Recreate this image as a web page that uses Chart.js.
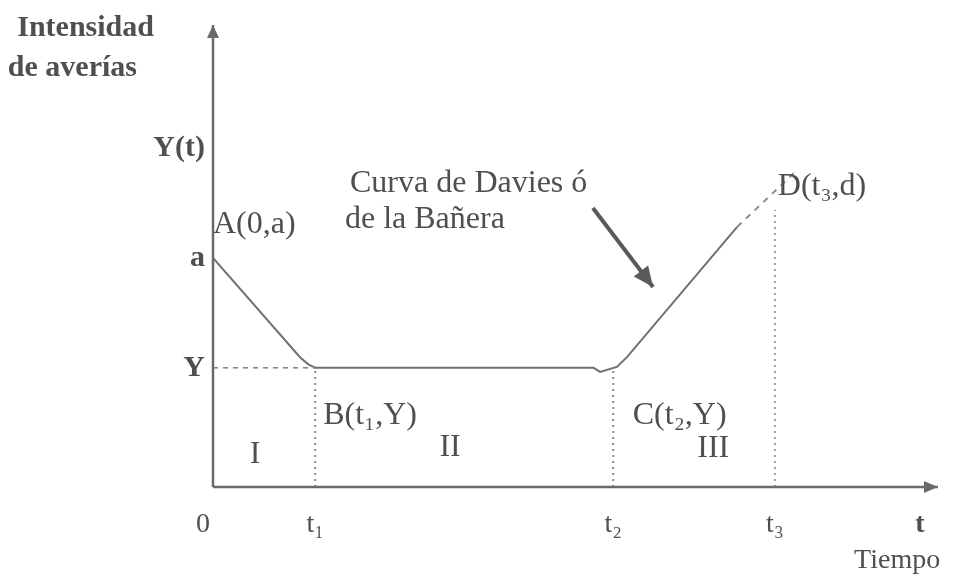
<!DOCTYPE html>
<html>
<head>
<meta charset="utf-8">
<script src="https://cdn.jsdelivr.net/npm/chart.js@4.4.0/dist/chart.umd.min.js"></script>
<style>
  body { margin: 0; background: #fff; }
  #wrap { width: 955px; height: 577px; }
</style>
</head>
<body>
<div id="wrap"><canvas id="bathtubChart" width="955" height="577"></canvas></div>
<script>
// tick labels and positions (time units / rate units)
const xTickLabels = ["0", "t\u2081", "t\u2082", "t\u2083", "t"];
const xTickValues = [0, 1.41, 5.52, 7.75, 9.75];
const yTickLabels = ["Y", "a", "Y(t)"];
const yTickValues = [2.58, 4.96, 7.34];

// bathtub curve A -> B -> C -> end of solid part
const curveT = [0, 1.2, 1.31, 1.41, 5.25, 5.34, 5.57, 5.71, 7.23];
const curveY = [4.96, 2.81, 2.66, 2.58, 2.58, 2.49, 2.6, 2.81, 5.63];
// dashed extension toward D
const extT = [7.23, 8.03];
const extY = [5.63, 6.82];
// top of the dotted t3 guide
const t3Top = 6.0;
// arrow pointing to the curve
const pointerT = [5.24, 6.07];
const pointerY = [6.04, 4.33];

const TEXT = "#4f4f4f";
const LINE = "#707070";
const SERIF = "'Liberation Serif', 'DejaVu Serif', serif";

const pts = (xs, ys) => xs.map((x, i) => ({ x: x, y: ys[i] }));

const Yv = yTickValues[0];
const t1 = xTickValues[1], t2 = xTickValues[2], t3 = xTickValues[3];

// free text, anchored in data units
const notes = [
  { text: "Intensidad", x: -2.7, y: 9.76, bold: true, size: 30 },
  { text: "de aver\u00edas", x: -2.83, y: 8.9, bold: true, size: 30 },
  { text: "A(0,a)", x: 0, y: 5.5 },
  { text: "Curva de Davies \u00f3", x: 1.89, y: 6.39 },
  { text: "de la Ba\u00f1era", x: 1.82, y: 5.61 },
  { text: "D(t\u2083,d)", x: 7.79, y: 6.32 },
  { text: "B(t\u2081,Y)", x: 1.52, y: 1.36 },
  { text: "C(t\u2082,Y)", x: 5.79, y: 1.36 },
  { text: "I", x: 0.58, y: 0.52, align: "center" },
  { text: "II", x: 3.27, y: 0.67, align: "center" },
  { text: "III", x: 6.9, y: 0.65, align: "center" },
  { text: "Tiempo", x: 10.03, y: -1.75, align: "right", size: 28 },
];

function arrowHead(ctx, x0, y0, x1, y1, len, half) {
  const ang = Math.atan2(y1 - y0, x1 - x0);
  ctx.beginPath();
  ctx.moveTo(x1, y1);
  ctx.lineTo(x1 - len * Math.cos(ang) + half * Math.sin(ang), y1 - len * Math.sin(ang) - half * Math.cos(ang));
  ctx.lineTo(x1 - len * Math.cos(ang) - half * Math.sin(ang), y1 - len * Math.sin(ang) + half * Math.cos(ang));
  ctx.closePath();
  ctx.fill();
}

const decorPlugin = {
  id: "decor",
  afterDatasetsDraw(chart) {
    const ctx = chart.ctx;
    const xs = chart.scales.x, ys = chart.scales.y;
    ctx.save();

    // arrow heads on datasets that ask for one
    chart.data.datasets.forEach((ds) => {
      if (!ds.arrow) return;
      const n = ds.data.length;
      const a = ds.data[n - 2], b = ds.data[n - 1];
      ctx.fillStyle = ds.borderColor;
      arrowHead(ctx, xs.getPixelForValue(a.x), ys.getPixelForValue(a.y),
        xs.getPixelForValue(b.x), ys.getPixelForValue(b.y), ds.arrow[0], ds.arrow[1]);
    });

    ctx.fillStyle = TEXT;
    // x tick labels
    ctx.textAlign = "center";
    ctx.textBaseline = "alphabetic";
    xTickLabels.forEach((lab, i) => {
      let px = xs.getPixelForValue(xTickValues[i]);
      if (i === 0) px -= 10;
      ctx.font = (i === xTickLabels.length - 1 ? "bold 28px " : "28px ") + SERIF;
      ctx.fillText(lab, px, ys.getPixelForValue(0) + 45);
    });

    // y tick labels
    ctx.font = "bold 30px " + SERIF;
    ctx.textAlign = "right";
    ctx.textBaseline = "middle";
    yTickLabels.forEach((lab, i) => {
      ctx.fillText(lab, xs.getPixelForValue(0) - 8, ys.getPixelForValue(yTickValues[i]));
    });

    // notes
    ctx.textBaseline = "alphabetic";
    notes.forEach((n) => {
      ctx.font = (n.bold ? "bold " : "") + (n.size || 32) + "px " + SERIF;
      ctx.textAlign = n.align || "left";
      ctx.fillText(n.text, xs.getPixelForValue(n.x), ys.getPixelForValue(n.y));
    });
    ctx.restore();
  },
};

const line = (data, extra) => Object.assign({
  data: data,
  showLine: true,
  pointRadius: 0,
  borderColor: LINE,
  borderWidth: 2,
  tension: 0,
  clip: false,
}, extra);

new Chart(document.getElementById("bathtubChart").getContext("2d"), {
  type: "scatter",
  data: {
    datasets: [
      // axes
      line([{ x: 0, y: 0 }, { x: 0, y: 10 }], { borderColor: "#6a6a6a", borderWidth: 2.5, arrow: [13, 6] }),
      line([{ x: 0, y: 0 }, { x: 10, y: 0 }], { borderColor: "#6a6a6a", borderWidth: 2.5, arrow: [14, 6] }),
      // guides
      line([{ x: 0, y: Yv }, { x: t1, y: Yv }], { borderWidth: 1.5, borderDash: [5, 5], borderColor: "#808080" }),
      line([{ x: t1, y: 0 }, { x: t1, y: Yv }], { borderWidth: 2, borderDash: [2, 4], borderColor: "#8a8a8a" }),
      line([{ x: t2, y: 0 }, { x: t2, y: Yv }], { borderWidth: 2, borderDash: [2, 4], borderColor: "#8a8a8a" }),
      line([{ x: t3, y: 0 }, { x: t3, y: t3Top }], { borderWidth: 2, borderDash: [2, 4], borderColor: "#9a9a9a" }),
      // curve
      line(pts(curveT, curveY), { borderWidth: 2 }),
      line(pts(extT, extY), { borderWidth: 2, borderDash: [6, 6], borderColor: "#8a8a8a" }),
      // pointer
      line(pts(pointerT, pointerY), { borderWidth: 4, borderColor: "#5a5a5a", arrow: [20, 9] }),
    ],
  },
  options: {
    responsive: false,
    animation: false,
    layout: { padding: { left: 213, right: 17, top: 25, bottom: 90 } },
    scales: {
      x: { type: "linear", min: 0, max: 10, display: false },
      y: { type: "linear", min: 0, max: 10, display: false },
    },
    plugins: {
      legend: { display: false },
      tooltip: { enabled: false },
    },
  },
  plugins: [decorPlugin],
});
</script>
</body>
</html>
